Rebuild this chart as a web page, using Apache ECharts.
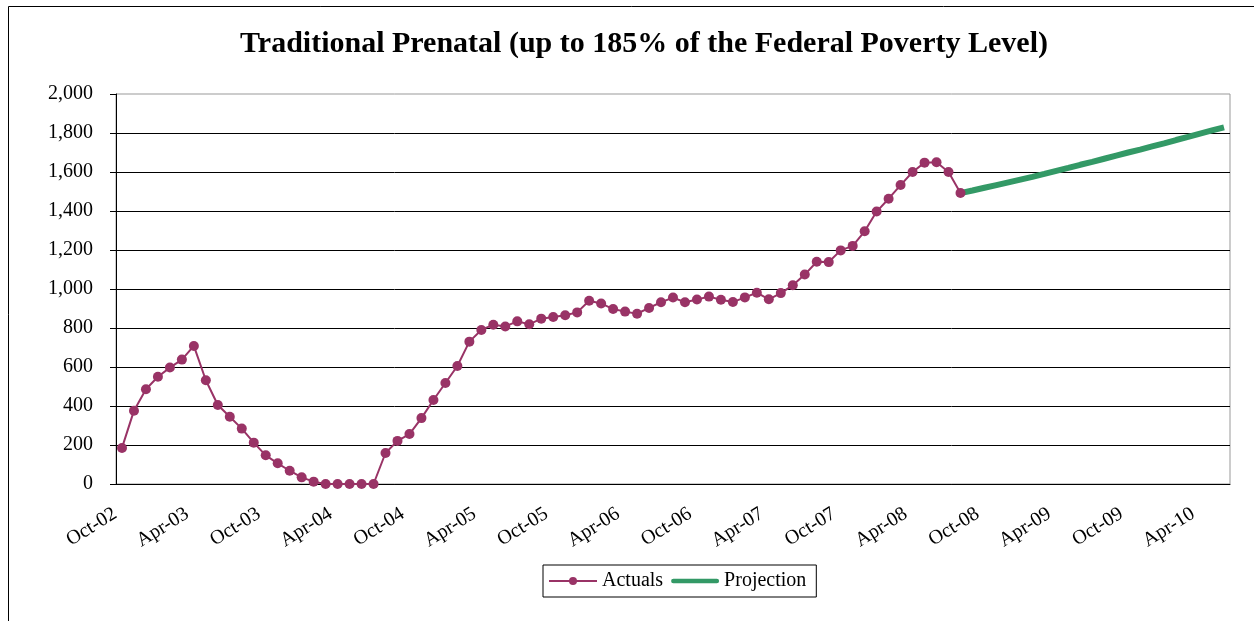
<!DOCTYPE html>
<html>
<head>
<meta charset="utf-8">
<script src="https://cdn.jsdelivr.net/npm/echarts@6/dist/echarts.min.js"></script>
<style>
  html, body { margin: 0; padding: 0; background: #fff; }
  #chart { width: 1254px; height: 621px; }
</style>
</head>
<body>
<div id="chart"></div>
<script>
// months Oct-02 .. Jun-10
var months = [
  'Oct-02','Nov-02','Dec-02',
  'Jan-03','Feb-03','Mar-03','Apr-03','May-03','Jun-03','Jul-03','Aug-03','Sep-03','Oct-03','Nov-03','Dec-03',
  'Jan-04','Feb-04','Mar-04','Apr-04','May-04','Jun-04','Jul-04','Aug-04','Sep-04','Oct-04','Nov-04','Dec-04',
  'Jan-05','Feb-05','Mar-05','Apr-05','May-05','Jun-05','Jul-05','Aug-05','Sep-05','Oct-05','Nov-05','Dec-05',
  'Jan-06','Feb-06','Mar-06','Apr-06','May-06','Jun-06','Jul-06','Aug-06','Sep-06','Oct-06','Nov-06','Dec-06',
  'Jan-07','Feb-07','Mar-07','Apr-07','May-07','Jun-07','Jul-07','Aug-07','Sep-07','Oct-07','Nov-07','Dec-07',
  'Jan-08','Feb-08','Mar-08','Apr-08','May-08','Jun-08','Jul-08','Aug-08','Sep-08','Oct-08','Nov-08','Dec-08',
  'Jan-09','Feb-09','Mar-09','Apr-09','May-09','Jun-09','Jul-09','Aug-09','Sep-09','Oct-09','Nov-09','Dec-09',
  'Jan-10','Feb-10','Mar-10','Apr-10','May-10','Jun-10'
];

// Oct-02 .. Aug-08
var actuals = [
  185, 376, 486, 550, 597, 638, 708, 532, 405, 345, 284, 212,
  147, 106, 68, 34, 12, 0, 0, 0, 0, 0, 159, 221,
  256, 338, 431, 518, 605, 730, 790, 817, 808, 834, 819, 848,
  856, 865, 880, 940, 926, 897, 884, 873, 903, 932, 956, 932,
  946, 961, 945, 933, 957, 981, 947, 979, 1019, 1074, 1140, 1138,
  1198, 1221, 1296, 1397, 1463, 1533, 1600, 1648, 1650, 1600, 1492
];

// Aug-08 .. Jun-10
var projStart = 70;
var projection = [
  1492, 1505, 1519, 1533, 1547, 1561, 1575, 1590, 1606, 1621, 1637, 1652,
  1668, 1684, 1700, 1715, 1731, 1747, 1764, 1780, 1797, 1813, 1829
];

var yTicks = { min: 0, max: 2000, step: 200 };

var fontFam = '"Liberation Serif", "Times New Roman", serif';

var actualData = [];
var projData = [];
for (var i = 0; i < months.length; i++) {
  actualData.push(i < actuals.length ? actuals[i] : null);
  var j = i - projStart;
  projData.push(j >= 0 && j < projection.length ? projection[j] : null);
}

var myChart = echarts.init(document.getElementById('chart'));
var option = {
  backgroundColor: '#fff',
  animation: false,
  title: {
    text: 'Traditional Prenatal (up to 185% of the Federal Poverty Level)',
    left: 639,
    textAlign: 'center',
    top: 24,
    textStyle: { fontFamily: fontFam, fontSize: 30, fontWeight: 'bold', color: '#000' }
  },
  graphic: [{
    type: 'rect',
    shape: { x: 8.5, y: 6.5, width: 1400, height: 800 },
    style: { fill: null, stroke: '#000', lineWidth: 1 },
    silent: true
  }],
  legend: {
    top: 565,
    left: 543,
    itemGap: 8,
    itemWidth: 48,
    itemHeight: 10,
    padding: [6, 10, 6, 5],
    borderColor: '#000',
    borderWidth: 1,
    textStyle: { fontFamily: fontFam, fontSize: 20, color: '#000' },
    data: [
      { name: 'Actuals' },
      { name: 'Projection', icon: 'path://M2,0 L98,0 A5,5 0 0 1 98,10 L2,10 A5,5 0 0 1 2,0 Z' }
    ]
  },
  grid: {
    left: 116,
    top: 94,
    width: 1114,
    height: 390,
    show: true,
    borderColor: '#999',
    borderWidth: 1
  },
  xAxis: {
    type: 'category',
    data: months,
    boundaryGap: true,
    axisLine: { lineStyle: { color: '#000', width: 1 } },
    axisTick: { interval: 5, length: 6, lineStyle: { color: '#000' } },
    axisLabel: {
      interval: 5,
      rotate: 32,
      margin: 24,
      padding: [0, 8, 0, 0],
      fontFamily: fontFam,
      fontSize: 20,
      color: '#000'
    },
    splitLine: { show: false }
  },
  yAxis: {
    type: 'value',
    min: yTicks.min,
    max: yTicks.max,
    interval: yTicks.step,
    axisLine: { show: true, lineStyle: { color: '#000', width: 1 } },
    axisTick: { show: true, length: 6, lineStyle: { color: '#000' } },
    axisLabel: {
      margin: 23,
      fontFamily: fontFam,
      fontSize: 20,
      color: '#000',
      formatter: function (v) { return v.toLocaleString('en-US'); }
    },
    splitLine: { show: true, showMaxLine: false, lineStyle: { color: '#000', width: 1 } }
  },
  series: [
    {
      name: 'Actuals',
      type: 'line',
      data: actualData,
      symbol: 'circle',
      symbolSize: 10,
      showAllSymbol: true,
      lineStyle: { color: '#993366', width: 2 },
      itemStyle: { color: '#993366' },
      z: 3
    },
    {
      name: 'Projection',
      type: 'line',
      data: projData,
      symbol: 'none',
      lineStyle: { color: '#339966', width: 6 },
      itemStyle: { color: '#339966' },
      z: 2
    }
  ]
};
myChart.setOption(option);
</script>
</body>
</html>
